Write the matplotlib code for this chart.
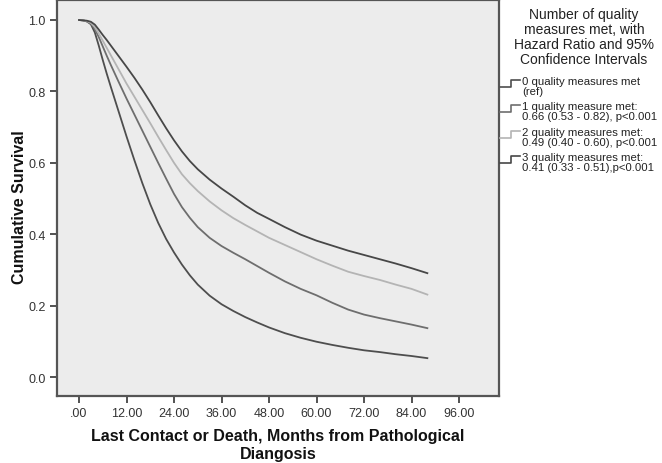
import matplotlib
matplotlib.use("Agg")
import matplotlib.pyplot as plt
from matplotlib.lines import Line2D

plt.rcParams['font.family'] = ['Liberation Sans', 'DejaVu Sans']

# Kaplan-Meier survival estimates by number of quality measures met
months = [0, 1, 2, 3, 4, 5, 6, 7, 8, 9, 10, 12, 14, 16, 18, 20, 22, 24, 26, 28, 30,
          33, 36, 39, 42, 45, 48, 52, 56, 60, 64, 68, 72, 76, 80, 84, 88]
surv_0 = [1.0, 0.999, 0.996, 0.988, 0.965, 0.928, 0.888, 0.85, 0.814, 0.779, 0.744,
          0.674, 0.607, 0.543, 0.484, 0.432, 0.387, 0.349, 0.315, 0.285, 0.259,
          0.228, 0.204, 0.185, 0.168, 0.153, 0.139, 0.123, 0.11, 0.099, 0.09,
          0.082, 0.075, 0.07, 0.064, 0.059, 0.053]
surv_1 = [1.0, 0.999, 0.996, 0.99, 0.975, 0.952, 0.926, 0.9, 0.875, 0.851, 0.827,
          0.78, 0.735, 0.69, 0.645, 0.6, 0.556, 0.513, 0.476, 0.446, 0.42,
          0.39, 0.367, 0.348, 0.33, 0.311, 0.292, 0.268, 0.247, 0.229, 0.208,
          0.189, 0.175, 0.165, 0.156, 0.147, 0.137]
surv_2 = [1.0, 0.999, 0.997, 0.992, 0.98, 0.962, 0.942, 0.922, 0.902, 0.882, 0.862,
          0.822, 0.785, 0.748, 0.711, 0.673, 0.636, 0.6, 0.568, 0.543, 0.521,
          0.492, 0.467, 0.445, 0.426, 0.408, 0.39, 0.37, 0.35, 0.33, 0.312,
          0.295, 0.283, 0.272, 0.259, 0.247, 0.231]
surv_3 = [1.0, 0.999, 0.998, 0.995, 0.987, 0.973, 0.958, 0.944, 0.929, 0.914, 0.899,
          0.869, 0.838, 0.805, 0.77, 0.733, 0.697, 0.663, 0.632, 0.605, 0.582,
          0.553, 0.528, 0.505, 0.481, 0.46, 0.443, 0.42, 0.399, 0.382, 0.368,
          0.354, 0.342, 0.33, 0.318, 0.305, 0.291]

series = [surv_0, surv_1, surv_2, surv_3]
colors = ['#4e4e4e', '#6e6e6e', '#b4b4b4', '#474747']

legend_title = ["Number of quality", "measures met, with",
                "Hazard Ratio and 95%", "Confidence Intervals"]
legend_labels = [["0 quality measures met", "(ref)"],
                 ["1 quality measure met:", "0.66 (0.53 - 0.82), p<0.001"],
                 ["2 quality measures met:", "0.49 (0.40 - 0.60), p<0.001"],
                 ["3 quality measures met:", "0.41 (0.33 - 0.51),p<0.001"]]

xticks = [0, 12, 24, 36, 48, 60, 72, 84, 96]
xticklabels = [".00", "12.00", "24.00", "36.00", "48.00", "60.00", "72.00", "84.00", "96.00"]
yticks = [0.0, 0.2, 0.4, 0.6, 0.8, 1.0]

W, H = 662, 464
fig = plt.figure(figsize=(W / 100, H / 100), dpi=100)
ax = fig.add_axes([57 / W, 1 - 397 / H, (499 - 57) / W, (397 - 1) / H])
ax.set_facecolor('#ececec')

for s, c in zip(series, colors):
    ax.plot(months, s, color=c, lw=1.3)

ax.set_xlim(-5.56, 106.1)
ax.set_ylim(-0.053, 1.056)
ax.set_xticks(xticks)
ax.set_xticklabels(xticklabels)
ax.set_yticks(yticks)
ax.set_yticklabels(["%.1f" % v for v in yticks])
ax.tick_params(direction='out', length=5, width=1.3, color='#444444',
               labelsize=9, labelcolor='#333333', pad=3)
for sp in ax.spines.values():
    sp.set_color('#555555')
    sp.set_linewidth(1.6)

# axis titles
fig.text(20 / W, 1 - 207 / H, "Cumulative Survival", rotation=90,
         ha='center', va='center', fontsize=11.5, fontweight='bold', color='#111111')
fig.text(278 / W, 1 - 437 / H, "Last Contact or Death, Months from Pathological",
         ha='center', va='center', fontsize=11.5, fontweight='bold', color='#111111')
fig.text(278 / W, 1 - 455 / H, "Diangosis",
         ha='center', va='center', fontsize=11.5, fontweight='bold', color='#111111')

# legend drawn beside the plot
for i, line in enumerate(legend_title):
    fig.text(584 / W, 1 - (15 + 15 * i) / H, line, ha='center', va='center',
             fontsize=10, color='#222222')

entry_y = [82, 107, 133, 158]
for y0, lab, c in zip(entry_y, legend_labels, colors):
    yh = y0 - 1
    yl = y0 + 6
    xs = [500, 511, 511, 520]
    ys = [yl, yl, yh, yh]
    fig.add_artist(Line2D([x / W for x in xs], [1 - y / H for y in ys],
                          color=c, lw=1.2, transform=fig.transFigure))
    fig.text(522 / W, 1 - y0 / H, lab[0], ha='left', va='center',
             fontsize=8.2, color='#222222')
    fig.text(522 / W, 1 - (y0 + 10) / H, lab[1], ha='left', va='center',
             fontsize=8.2, color='#222222')

fig.savefig("out.png", dpi=100)
